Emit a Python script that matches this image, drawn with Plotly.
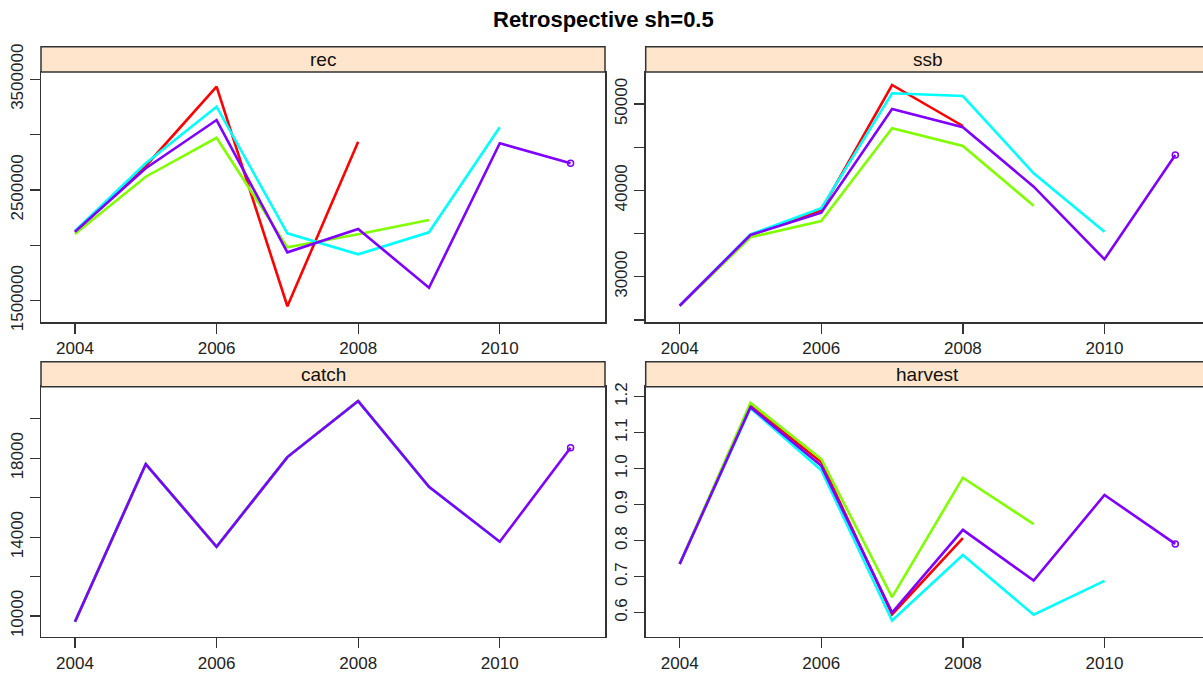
import plotly.graph_objects as go

W, H = 1203, 677

years = [2004, 2005, 2006, 2007, 2008, 2009, 2010, 2011]
peels = ["2008", "2009", "2010", "2011"]
colors = ["#FF0000", "#80FF00", "#00FFFF", "#8000FF"]

rec_2008 = [2120000, 2717000, 3433000, 1450000, 2936000]
rec_2009 = [2102500, 2620000, 2972000, 1982000, 2100000, 2229000]
rec_2010 = [2129600, 2741000, 3252500, 2109000, 1919000, 2118000, 3066000]
rec_2011 = [2123300, 2696000, 3132000, 1937000, 2148000, 1617000, 2922000, 2741000]

ssb_2008 = [26640, 34829, 37700, 52200, 47452]
ssb_2009 = [26640, 34563, 36450, 47186, 45136, 38222]
ssb_2010 = [26640, 34900, 37921, 51239, 50927, 41975, 35211]
ssb_2011 = [26640, 34829, 37412, 49421, 47302, 40423, 32015, 44094]

catch_2008 = [9711, 17706, 13513, 18061, 20900]
catch_2009 = [9711, 17706, 13513, 18061, 20900, 16555]
catch_2010 = [9711, 17706, 13513, 18061, 20900, 16555, 13767]
catch_2011 = [9711, 17706, 13513, 18061, 20900, 16555, 13767, 18532]

harvest_2008 = [0.735, 1.175, 1.018, 0.595, 0.807]
harvest_2009 = [0.735, 1.183, 1.027, 0.643, 0.975, 0.846]
harvest_2010 = [0.735, 1.168, 0.996, 0.578, 0.760, 0.594, 0.688]
harvest_2011 = [0.735, 1.171, 1.008, 0.600, 0.830, 0.689, 0.927, 0.791]

rec_ticks = [1500000, 2000000, 2500000, 3000000, 3500000]
rec_labels = ["1500000", "", "2500000", "", "3500000"]
ssb_ticks = [25000, 30000, 35000, 40000, 45000, 50000]
ssb_labels = ["", "30000", "", "40000", "", "50000"]
catch_ticks = [10000, 12000, 14000, 16000, 18000, 20000]
catch_labels = ["10000", "", "14000", "", "18000", ""]
harvest_ticks = [0.6, 0.7, 0.8, 0.9, 1.0, 1.1, 1.2]
harvest_labels = ["0.6", "0.7", "0.8", "0.9", "1.0", "1.1", "1.2"]
x_ticks = [2004, 2006, 2008, 2010]

panels = [
    ("rec", [rec_2008, rec_2009, rec_2010, rec_2011], rec_ticks, rec_labels, [1307600, 3565900]),
    ("ssb", [ssb_2008, ssb_2009, ssb_2010, ssb_2011], ssb_ticks, ssb_labels, [24754, 53706]),
    ("catch", [catch_2008, catch_2009, catch_2010, catch_2011], catch_ticks, catch_labels, [8951, 21630]),
    ("harvest", [harvest_2008, harvest_2009, harvest_2010, harvest_2011], harvest_ticks, harvest_labels, [0.533, 1.228]),
]

# pixel geometry
px_per_year = 70.8
left_x = [(41, 605), (645.7, W)]
rows_y = [(72, 322, 46.7), (386.7, 636.7, 361.7)]
x0_year = 2003.52

fig = go.Figure()
layout = dict(
    template="none",
    width=W, height=H, margin=dict(l=0, r=0, t=0, b=0, pad=0, autoexpand=False),
    paper_bgcolor="white", plot_bgcolor="white", showlegend=False,
    font=dict(family="Liberation Sans, Arial, sans-serif", color="black"),
)
shapes = []
annotations = []
border = "#333333"

for i, (name, series, ticks, labels, yr) in enumerate(panels):
    r, c = divmod(i, 2)
    xl, xr = left_x[c]
    yt, yb, ys = rows_y[r]
    xa = "x" if i == 0 else f"x{i+1}"
    ya = "y" if i == 0 else f"y{i+1}"
    xkey = "xaxis" if i == 0 else f"xaxis{i+1}"
    ykey = "yaxis" if i == 0 else f"yaxis{i+1}"
    xrange = [x0_year, x0_year + (xr - xl) / px_per_year]
    layout[xkey] = dict(
        domain=[xl / W, xr / W], range=xrange, anchor=ya, automargin=False,
        tickvals=x_ticks, ticktext=[str(t) for t in x_ticks],
        ticks="outside", ticklen=10, tickwidth=1.3, tickcolor=border,
        showline=True, linecolor=border, linewidth=1.5, mirror=True,
        showgrid=False, zeroline=False, tickfont=dict(size=17, color="#222"),
    )
    layout[ykey] = dict(
        domain=[1 - yb / H, 1 - yt / H], range=yr, anchor=xa, automargin=False,
        tickvals=ticks, ticktext=labels, tickangle=-90,
        ticks="outside", ticklen=10, tickwidth=1.3, tickcolor=border,
        showline=True, linecolor=border, linewidth=1.5, mirror=(c == 0),
        showgrid=False, zeroline=False, tickfont=dict(size=17, color="#222"),
    )
    for k, vals in enumerate(series):
        fig.add_trace(go.Scatter(
            x=years[:len(vals)], y=vals, xaxis=xa, yaxis=ya,
            mode="lines", line=dict(color=colors[k], width=2.6),
            name=peels[k], hoverinfo="skip",
        ))
    last = series[-1]
    fig.add_trace(go.Scatter(
        x=[years[len(last) - 1]], y=[last[-1]], xaxis=xa, yaxis=ya,
        mode="markers", marker=dict(symbol="circle-open", size=6, color=colors[3], line=dict(width=1.5)),
        hoverinfo="skip",
    ))
    # strip
    shapes.append(dict(type="rect", xref="paper", yref="paper",
                       x0=xl / W, x1=(xr + (10 if c == 1 else 0)) / W,
                       y0=1 - yt / H, y1=1 - ys / H,
                       fillcolor="#FFE5CC", line=dict(color=border, width=1.5), layer="above"))
    cx = (xl + xl + 564) / 2
    annotations.append(dict(text=name, x=cx / W, y=1 - (yt + ys) / 2 / H, xref="paper", yref="paper",
                            showarrow=False, font=dict(size=19, color="#111"), xanchor="center", yanchor="middle"))

annotations.append(dict(text="<b>Retrospective sh=0.5</b>", x=603 / W, y=1 - 20 / H, xref="paper", yref="paper",
                        showarrow=False, font=dict(size=22, color="black"), xanchor="center", yanchor="middle"))
layout["shapes"] = shapes
layout["annotations"] = annotations
fig.update_layout(**layout)
fig.write_html("out.html", config={"displayModeBar": False, "staticPlot": True},
               post_script="document.body.style.margin='0';document.body.style.overflow='hidden';")
